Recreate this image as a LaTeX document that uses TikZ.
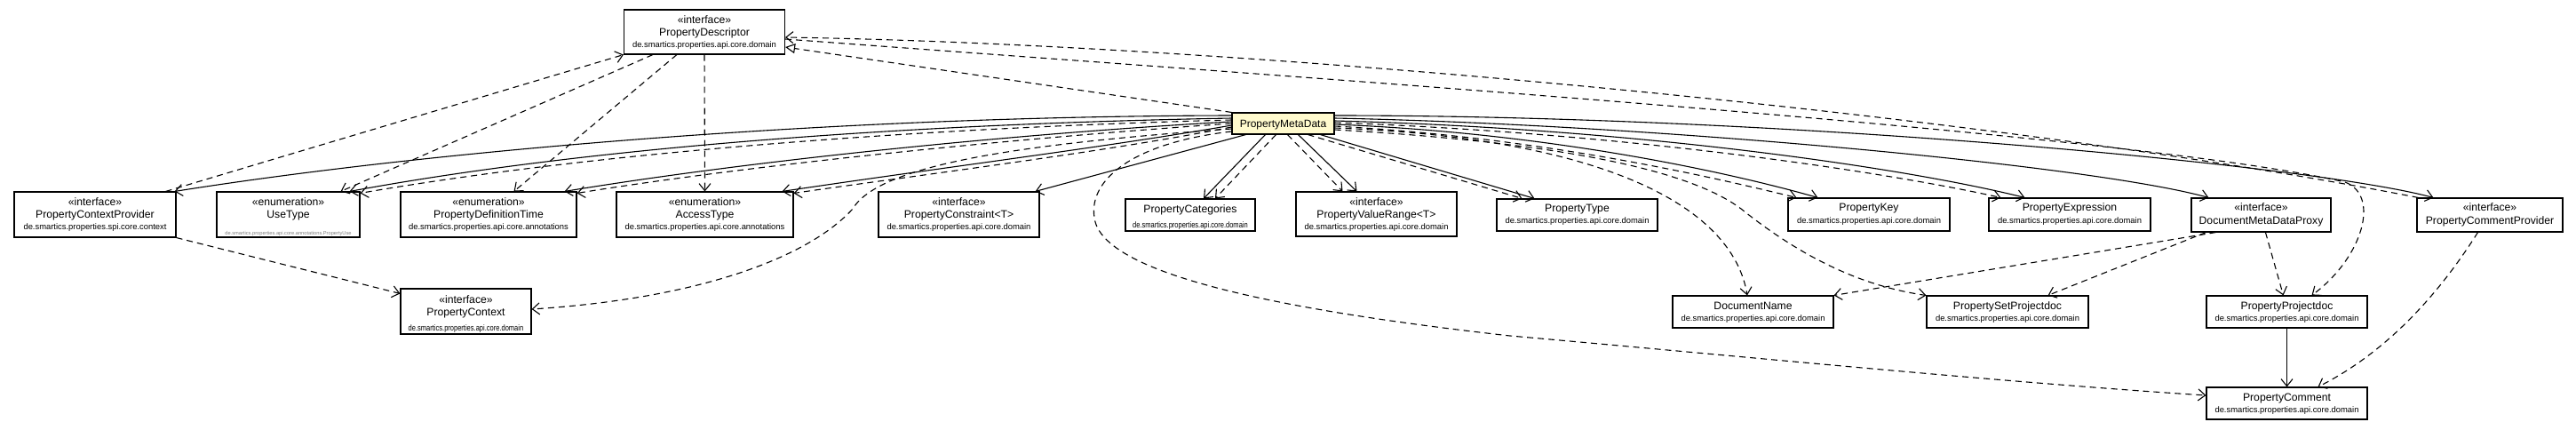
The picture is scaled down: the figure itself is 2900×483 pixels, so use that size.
\documentclass[tikz,border=0pt]{standalone}
\usepackage{fontspec}
\setmainfont{Liberation Sans}
\usepackage{graphicx}
\usetikzlibrary{arrows.meta}
\definecolor{pmdfill}{RGB}{255,250,205}
\begin{document}
\begin{tikzpicture}[x=1pt,y=-1pt,
  cls/.style={draw=black,line width=1.1pt,fill=white,inner sep=0pt},
  st/.style={inner sep=0pt,anchor=base,font=\fontsize{12.2}{14}\selectfont},
  nm/.style={inner sep=0pt,anchor=base,font=\fontsize{12.2}{14}\selectfont},
  pk/.style={inner sep=0pt,anchor=base,font=\fontsize{9.4}{11}\selectfont},
  tiny/.style={inner sep=0pt,anchor=base,font=\fontsize{5.7}{6}\selectfont,text=gray},
  dep/.style={line width=1.1pt,dash pattern=on 7pt off 5pt,-{Straight Barb[length=8pt,width=13pt,line width=1.1pt]}},
  assoc/.style={line width=1.1pt,-{Straight Barb[length=8pt,width=13pt,line width=1.1pt]}},
  thinassoc/.style={line width=0.8pt,-{Straight Barb[length=8pt,width=13pt,line width=1.1pt]}},
  real/.style={line width=1.1pt,dash pattern=on 7pt off 5pt,-{Triangle[length=11pt,width=11pt,line width=1.1pt,fill=white]}},
]
\useasboundingbox[fill=white] (0,0) rectangle (2900,483);

% ---------- boxes ----------
\node[cls,minimum width=181pt,minimum height=50pt] (pd) at (793,36) {};
\node[st] (pd-s) at (793,26.5) {«interface»};
\node[nm] (pd-n) at (793,40) {PropertyDescriptor};
\node[pk] (pd-p) at (793,53.5) {de.smartics.properties.api.core.domain};

\node[cls,minimum width=182pt,minimum height=51pt] (pcp) at (107,241.5) {};
\node[st] (pcp-s) at (107,231.5) {«interface»};
\node[nm] (pcp-n) at (107,245) {PropertyContextProvider};
\node[pk] (pcp-p) at (107,258.5) {de.smartics.properties.spi.core.context};

\node[cls,minimum width=161pt,minimum height=51pt] (ut) at (324.5,241.5) {};
\node[st] (ut-s) at (324.5,231.5) {«enumeration»};
\node[nm] (ut-n) at (324.5,245) {UseType};
\node[tiny] (ut-p) at (324.5,264) {de.smartics.properties.api.core.annotations.PropertyUse};

\node[cls,minimum width=198pt,minimum height=51pt] (pdt) at (550,241.5) {};
\node[st] (pdt-s) at (550,231.5) {«enumeration»};
\node[nm] (pdt-n) at (550,245) {PropertyDefinitionTime};
\node[pk] (pdt-p) at (550,258.5) {de.smartics.properties.api.core.annotations};

\node[cls,minimum width=199pt,minimum height=51pt] (at) at (793.5,241.5) {};
\node[st] (at-s) at (793.5,231.5) {«enumeration»};
\node[nm] (at-n) at (793.5,245) {AccessType};
\node[pk] (at-p) at (793.5,258.5) {de.smartics.properties.api.core.annotations};

\node[cls,minimum width=181pt,minimum height=51pt] (pcon) at (1079.5,241.5) {};
\node[st] (pcon-s) at (1079.5,231.5) {«interface»};
\node[nm] (pcon-n) at (1079.5,245) {PropertyConstraint<T>};
\node[pk] (pcon-p) at (1079.5,258.5) {de.smartics.properties.api.core.domain};

\node[cls,minimum width=146pt,minimum height=36pt] (pcat) at (1340,242) {};
\node[nm] (pcat-n) at (1340,239.5) {PropertyCategories};
\node[pk] (pcat-p) at (1340,256) {\scalebox{0.8}[1]{de.smartics.properties.api.core.domain}};

\node[cls,minimum width=115pt,minimum height=24pt,fill=pmdfill] (pmd) at (1444.5,139) {};
\node[nm,font=\fontsize{12}{14}\selectfont] (pmd-n) at (1444.5,143.5) {PropertyMetaData};

\node[cls,minimum width=181pt,minimum height=50pt] (pvr) at (1549.5,241) {};
\node[st] (pvr-s) at (1549.5,231.5) {«interface»};
\node[nm] (pvr-n) at (1549.5,245) {PropertyValueRange<T>};
\node[pk] (pvr-p) at (1549.5,258.5) {de.smartics.properties.api.core.domain};

\node[cls,minimum width=181pt,minimum height=36pt] (ptype) at (1775.5,242) {};
\node[nm] (ptype-n) at (1775.5,238) {PropertyType};
\node[pk] (ptype-p) at (1775.5,251) {de.smartics.properties.api.core.domain};

\node[cls,minimum width=182pt,minimum height=37pt] (pkey) at (2104,241.5) {};
\node[nm] (pkey-n) at (2104,237.5) {PropertyKey};
\node[pk] (pkey-p) at (2104,251) {de.smartics.properties.api.core.domain};

\node[cls,minimum width=182pt,minimum height=37pt] (pexpr) at (2330,241.5) {};
\node[nm] (pexpr-n) at (2330,237.5) {PropertyExpression};
\node[pk] (pexpr-p) at (2330,251) {de.smartics.properties.api.core.domain};

\node[cls,minimum width=157pt,minimum height=38pt] (dmdp) at (2545.5,242) {};
\node[st] (dmdp-s) at (2545.5,237.8) {«interface»};
\node[nm] (dmdp-n) at (2545.5,252.2) {DocumentMetaDataProxy};

\node[cls,minimum width=164pt,minimum height=38pt] (pcprov) at (2803,242) {};
\node[st] (pcprov-s) at (2803,237.8) {«interface»};
\node[nm] (pcprov-n) at (2803,252.2) {PropertyCommentProvider};

\node[cls,minimum width=147pt,minimum height=51pt] (pctx) at (524.5,350.5) {};
\node[st] (pctx-s) at (524.5,341.5) {«interface»};
\node[nm] (pctx-n) at (524.5,355.5) {PropertyContext};
\node[pk] (pctx-p) at (524.5,372.5) {\scalebox{0.8}[1]{de.smartics.properties.api.core.domain}};

\node[cls,minimum width=181pt,minimum height=36pt] (dn) at (1973.5,351) {};
\node[nm] (dn-n) at (1973.5,348) {DocumentName};
\node[pk] (dn-p) at (1973.5,361) {de.smartics.properties.api.core.domain};

\node[cls,minimum width=182pt,minimum height=36pt] (psp) at (2260,351) {};
\node[nm] (psp-n) at (2260,348) {PropertySetProjectdoc};
\node[pk] (psp-p) at (2260,361) {de.smartics.properties.api.core.domain};

\node[cls,minimum width=181pt,minimum height=36pt] (ppd) at (2574.5,351) {};
\node[nm] (ppd-n) at (2574.5,348) {PropertyProjectdoc};
\node[pk] (ppd-p) at (2574.5,361) {de.smartics.properties.api.core.domain};

\node[cls,minimum width=181pt,minimum height=36pt] (pcom) at (2574.5,454) {};
\node[nm] (pcom-n) at (2574.5,451) {PropertyComment};
\node[pk] (pcom-p) at (2574.5,464) {de.smartics.properties.api.core.domain};

% ---------- PropertyDescriptor edges ----------
\draw[real] (pmd.north west) -- ([yshift=-17pt]pd.east);
\draw[dep] ([xshift=-12pt]pcp.north east) -- (pd.south west);
\draw[dep] ([xshift=33pt]pd.south west) -- ([xshift=-22pt]ut.north east);
\draw[dep] ([xshift=60pt]pd.south west) -- ([xshift=-71pt]pdt.north east);
\draw[dep] (pd.south) -- (at.north);
\draw[dep] ([xshift=2pt]pcprov.north west) .. controls (2250,130) and (1400,50) .. ([yshift=-6pt]pd.east);
\draw[dep] ([yshift=-8pt]pd.east) .. controls (1500,90) and (2400,150) .. (2640,205)
  .. controls (2680,220) and (2660,290) .. ([xshift=28pt]ppd.north);

% ---------- PropertyMetaData, left side ----------
\draw[assoc] ([yshift=9pt]pmd.west) .. controls (900,131) and (450,175) .. ([xshift=-2pt]pcp.north east);
\draw[assoc] ([yshift=6pt]pmd.west) .. controls (1000,140) and (650,168) .. ([xshift=-12pt]ut.north east);
\draw[dep] ([yshift=4pt]pmd.west) .. controls (1000,145) and (650,175) .. ([yshift=-2pt]ut.north east);
\draw[assoc] ([yshift=2pt]pmd.west) .. controls (1150,150) and (850,180) .. ([xshift=-14pt]pdt.north east);
\draw[dep] (pmd.west) .. controls (1150,155) and (850,185) .. ([yshift=-2pt]pdt.north east);
\draw[assoc] ([yshift=-2pt]pmd.west) .. controls (1250,165) and (1050,190) .. ([xshift=-13pt]at.north east);
\draw[dep] ([yshift=-4pt]pmd.west) .. controls (1250,170) and (1050,195) .. ([yshift=-2pt]at.north east);
\draw[dep] ([yshift=-6pt]pmd.west) .. controls (1150,162) and (990,185) .. (960,235)
  .. controls (915,285) and (800,335) .. ([yshift=2.5pt]pctx.east);
\draw[dep] ([yshift=-9pt]pmd.west) .. controls (1280,160) and (1225,200) .. (1232,245)
  .. controls (1240,310) and (1450,350) .. (1700,378)
  .. controls (1950,400) and (2250,430) .. ([yshift=9pt]pcom.west);
\draw[assoc] ([xshift=16pt]pmd.south west) -- ([xshift=-5pt]pcon.north east);

% ---------- PropertyMetaData, below ----------
\draw[assoc] ([xshift=38pt]pmd.south west) -- ([xshift=15pt]pcat.north);
\draw[dep] ([xshift=50pt]pmd.south west) -- ([xshift=28pt]pcat.north);
\draw[dep] ([xshift=63pt]pmd.south west) -- ([xshift=-38pt]pvr.north);
\draw[assoc] ([xshift=75pt]pmd.south west) -- ([xshift=-22pt]pvr.north);
\draw[dep] ([xshift=86pt]pmd.south west) -- ([xshift=-62pt]ptype.north);
\draw[assoc] ([xshift=100pt]pmd.south west) -- ([xshift=-48pt]ptype.north);

% ---------- PropertyMetaData, right side ----------
\draw[assoc] ([yshift=9pt]pmd.east) .. controls (2000,130) and (2600,185) .. ([xshift=19pt]pcprov.north west);
\draw[assoc] ([yshift=6pt]pmd.east) .. controls (1850,140) and (2350,185) .. ([xshift=20pt]dmdp.north west);
\draw[assoc] ([yshift=3pt]pmd.east) .. controls (1850,145) and (2150,190) .. ([xshift=41pt]pexpr.north west);
\draw[dep] ([yshift=1pt]pmd.east) .. controls (1840,150) and (2130,195) .. ([xshift=14pt]pexpr.north west);
\draw[assoc] ([yshift=-1pt]pmd.east) .. controls (1750,150) and (1950,195) .. ([xshift=34pt]pkey.north west);
\draw[dep] ([yshift=-3pt]pmd.east) .. controls (1740,155) and (1930,200) .. ([xshift=10pt]pkey.north west);
\draw[dep] ([yshift=-5pt]pmd.east) .. controls (1800,155) and (1950,230) .. ([xshift=-6.5pt]dn.north);
\draw[dep] ([yshift=-7pt]pmd.east) .. controls (1750,160) and (1900,190) .. (1960,235)
  .. controls (2010,275) and (2080,320) .. (psp.north west);

% ---------- lower right ----------
\draw[dep] (pcp.south east) -- ([yshift=-6pt]pctx.north west);
\draw[dep] ([xshift=28pt]dmdp.south west) -- (dn.north east);
\draw[dep] ([xshift=17pt]dmdp.south west) -- ([xshift=-46pt]psp.north east);
\draw[dep] ([xshift=84pt]dmdp.south west) -- ([xshift=-4pt]ppd.north);
\draw[thinassoc] (ppd.south) -- (pcom.north);
\draw[dep] ([xshift=69pt]pcprov.south west) .. controls (2740,340) and (2680,400) .. ([xshift=35pt]pcom.north);
\end{tikzpicture}
\end{document}
